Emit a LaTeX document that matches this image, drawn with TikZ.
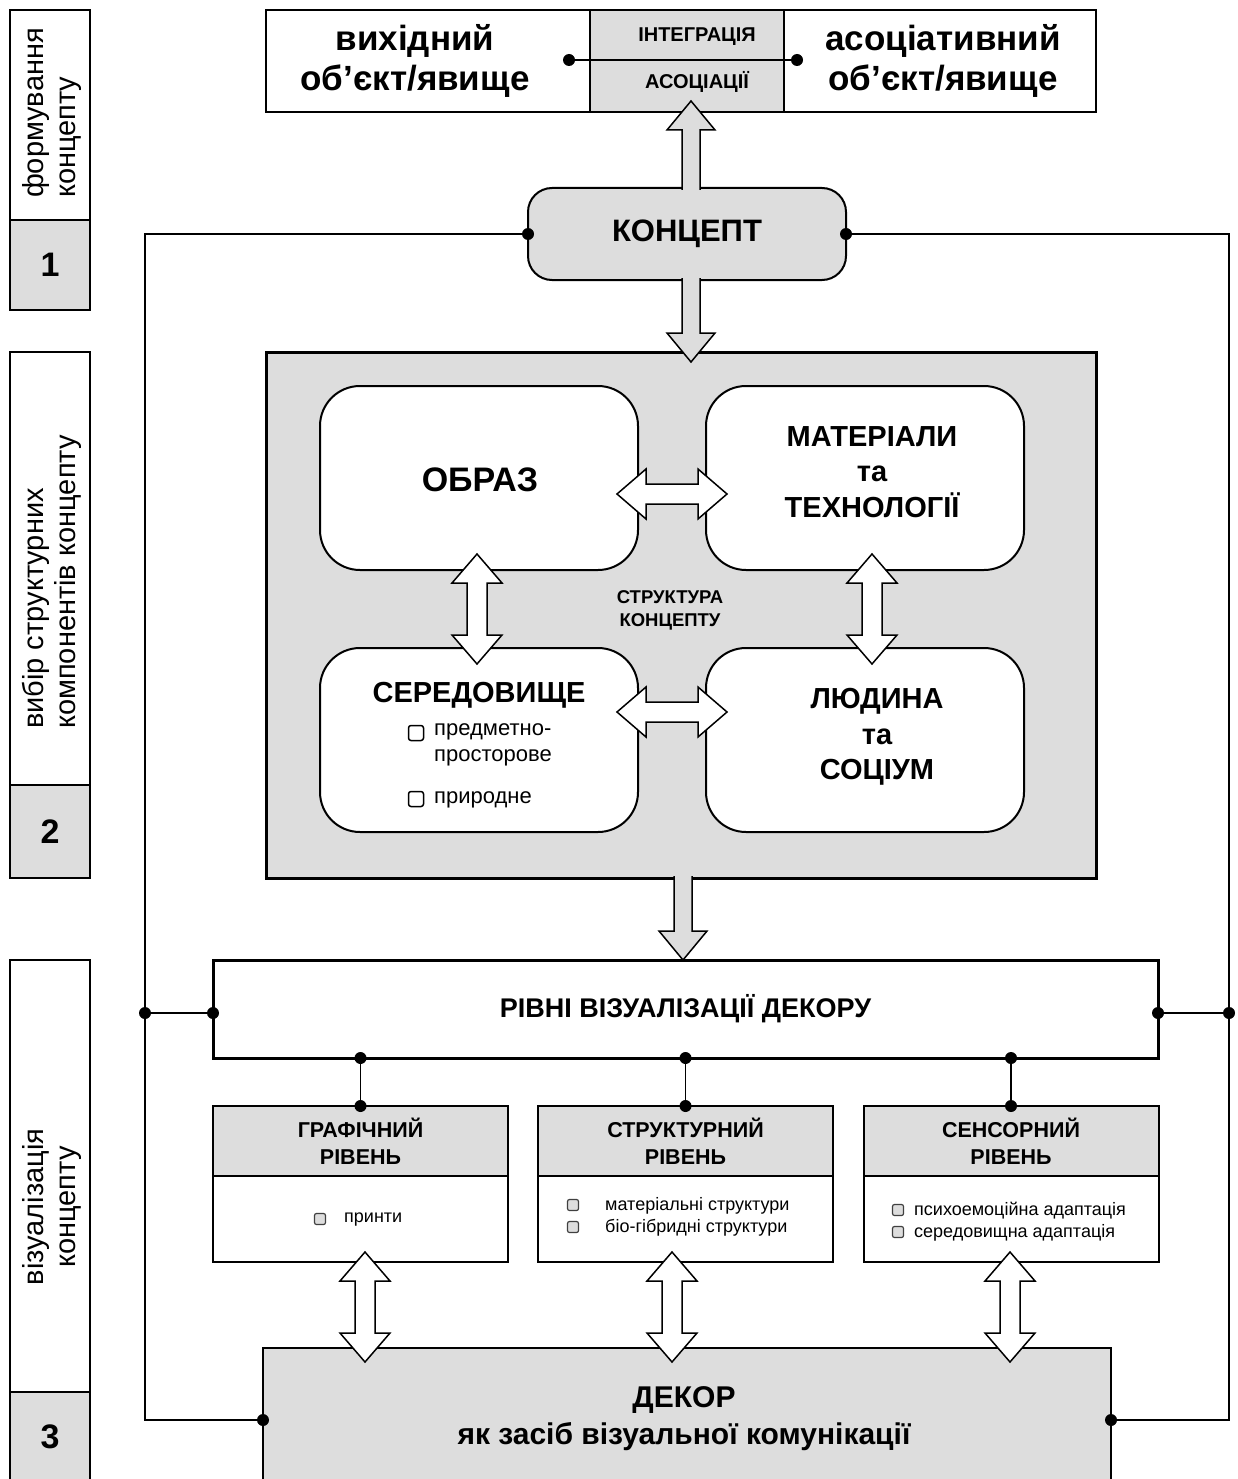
\documentclass[tikz,border=0pt]{standalone}
\usepackage{fontspec}
\setmainfont{Liberation Sans}
\usetikzlibrary{calc,positioning}
\definecolor{fillgray}{RGB}{221,221,221}

\tikzset{
  blockup/.pic={
    \draw[line width=1.5pt, fill=fillgray] (-9,2) -- (-9,-#1+29) -- (-24,-#1+29) -- (0,-#1) -- (24,-#1+29) -- (9,-#1+29) -- (9,2);
  },
  blockdbl/.pic={
    \draw[line width=1.5pt, fill=white] (-55,0) -- (-26,-25) -- (-26,-10) -- (26,-10) -- (26,-25) -- (55,0) -- (26,25) -- (26,10) -- (-26,10) -- (-26,25) -- cycle;
  }
}

\begin{document}
\begin{tikzpicture}[x=1pt, y=-1pt]
    \tikzstyle{stage}=[draw, line width=1.5pt, fill=white, inner sep=0pt, outer sep=0pt, minimum width=80pt]
    \tikzstyle{stagetxt}=[rotate=90, align=left, font=\fontsize{29}{32}\selectfont]
    \tikzstyle{num}=[draw, line width=1.5pt, fill=fillgray, inner sep=0pt, outer sep=0pt, minimum width=80pt, font=\bfseries\fontsize{34}{34}\selectfont]
    \tikzstyle{box}=[draw, line width=1.5pt, fill=white, inner sep=0pt, outer sep=0pt, minimum height=102pt]
    \tikzstyle{big}=[align=center, font=\bfseries\fontsize{35}{40}\selectfont]
    \tikzstyle{captxt}=[font=\bfseries\fontsize{20}{20}\selectfont]
    \tikzstyle{cell}=[draw, line width=2pt, fill=white, rounded corners=40pt, inner sep=0pt, outer sep=0pt, minimum width=318pt, minimum height=184pt]
    \tikzstyle{celltxt}=[align=center, font=\bfseries\fontsize{29}{35.5}\selectfont]
    \tikzstyle{item}=[align=left, inner sep=0pt, font=\fontsize{22}{26}\selectfont]
    \tikzstyle{chk}=[draw, line width=1.5pt, fill=white, rounded corners=2.5pt, inner sep=0pt, minimum size=15pt]
    \tikzstyle{lvlhead}=[draw, line width=2pt, fill=fillgray, inner sep=0pt, outer sep=0pt, minimum width=295pt, minimum height=70pt, align=center, font=\bfseries\fontsize{21.5}{27}\selectfont]
    \tikzstyle{lvlbody}=[draw, line width=2pt, fill=white, inner sep=0pt, outer sep=0pt, minimum width=295pt, minimum height=86pt]
    \tikzstyle{lvlitem}=[align=left, inner sep=0pt, anchor=west, font=\fontsize{18}{22}\selectfont]
    \tikzstyle{lvlchk}=[draw=black!75, line width=1.2pt, fill=fillgray, rounded corners=2pt, inner sep=0pt, minimum size=11pt]
    \tikzstyle{dot}=[circle, fill=black, inner sep=0pt, outer sep=0pt, minimum size=12pt]
    \tikzstyle{conn}=[line width=1.5pt]
    \useasboundingbox (0,0) rectangle (1238,1479);
    \fill[white] (0,0) rectangle (1238,1479);

    % stages on the left
    \node[stage, minimum height=210pt] (stg1) at (50,115) {};
    \node[num, minimum height=90pt] (num1) at (50,265) {1};
    \node[stage, minimum height=433pt] (stg2) at (50,568.5) {};
    \node[num, minimum height=93pt] (num2) at (50,831.5) {2};
    \node[stage, minimum height=432pt] (stg3) at (50,1176) {};
    \node[num, minimum height=90pt] (num3) at (50,1437) {3};
    \node[stagetxt] (stg1t) at (52,113) {формування\\концепту};
    \node[stagetxt] (stg2t) at (52,582) {вибір структурних\\компонентів концепту};
    \node[stagetxt, align=center] (stg3t) at (52,1207) {візуалізація\\концепту};

    % object and association
    \node[box, minimum width=324pt] (src) at (428,61) {};
    \node[box, fill=fillgray, minimum width=194pt] (integ) at (687,61) {};
    \node[box, minimum width=312pt] (assoc) at (940,61) {};
    \node[big] (srct) at (415,61) {вихідний\\об’єкт/явище};
    \node[big] (assoct) at (943,61) {асоціативний\\об’єкт/явище};
    \node[captxt] (integt) at (697,37) {ІНТЕГРАЦІЯ};
    \node[captxt] (assoc2t) at (697,82) {АСОЦІАЦІЇ};
    \node[dot] (tl) at (569,60) {};
    \node[dot] (tr) at (797,60) {};
    \draw[conn] (tl) -- (tr);

    % concept
    \node[draw, line width=2pt, fill=fillgray, rounded corners=24pt, inner sep=0pt, outer sep=0pt, minimum width=318pt, minimum height=92pt, font=\bfseries\fontsize{31}{31}\selectfont] (konc) at (687,234) {КОНЦЕПТ};
    \pic at ($(konc.north)+(4,0)$) {blockup=87};

    % structure of the concept
    \node[draw, line width=3pt, fill=fillgray, inner sep=0pt, outer sep=0pt, minimum width=830pt, minimum height=526pt] (struct) at (681,615) {};
    \pic[rotate=180] at ($(konc.south)+(4,0)$) {blockup=82};
    \node[cell] (obraz) at (479,478) {};
    \node[cell] (mater) at (865,478) {};
    \node[cell] (sered) at (479,740) {};
    \node[cell] (lyud) at (865,740) {};
    \node[celltxt, font=\bfseries\fontsize{34}{34}\selectfont] (obrazt) at (480,480) {ОБРАЗ};
    \node[celltxt] (matert) at (872,472) {МАТЕРІАЛИ\\та\\ТЕХНОЛОГІЇ};
    \node[celltxt] (lyudt) at (877,737) {ЛЮДИНА\\та\\СОЦІУМ};
    \node[celltxt] (seredt) at (479,695) {СЕРЕДОВИЩЕ};
    \node[chk] (ch1) at (416,733) {};
    \node[item, anchor=west] (ch1t) at (434,745) {предметно-\\просторове};
    \node[chk] (ch2) at (416,799) {};
    \node[item, anchor=west] (ch2t) at (434,800) {природне};
    \node[align=center, font=\bfseries\fontsize{18.5}{23}\selectfont] (structt) at (670,610) {СТРУКТУРА\\КОНЦЕПТУ};
    \pic at ($(obraz.east)!0.5!(mater.west)+(0,16)$) {blockdbl};
    \pic at ($(sered.east)!0.5!(lyud.west)+(0,-28)$) {blockdbl};
    \pic[rotate=90] at ($(obraz.south)!0.5!(sered.north)+(-2,0)$) {blockdbl};
    \pic[rotate=90] at ($(mater.south)!0.5!(lyud.north)+(7,0)$) {blockdbl};

    % levels of visualisation
    \node[draw, line width=3pt, fill=white, inner sep=0pt, outer sep=0pt, minimum width=945pt, minimum height=98pt, font=\bfseries\fontsize{27}{27}\selectfont] (rivni) at (685.5,1009) {РІВНІ ВІЗУАЛІЗАЦІЇ ДЕКОРУ};
    \pic[rotate=180] at ($(struct.south)+(2,0)$) {blockup=82};
    \node[lvlhead] (grafh) at (360.5,1141) {ГРАФІЧНИЙ\\РІВЕНЬ};
    \node[lvlbody, below=0pt of grafh] (grafb) {};
    \node[lvlhead] (strh) at (685.5,1141) {СТРУКТУРНИЙ\\РІВЕНЬ};
    \node[lvlbody, below=0pt of strh] (strb) {};
    \node[lvlhead] (sensh) at (1011,1141) {СЕНСОРНИЙ\\РІВЕНЬ};
    \node[lvlbody, below=0pt of sensh] (sensb) {};
    \node[lvlchk] (gc1) at (320,1219) {};
    \node[lvlitem] (gc1t) at (344,1220) {принти};
    \node[lvlchk] (sc1) at (573,1205) {};
    \node[lvlchk] (sc2) at (573,1227) {};
    \node[lvlitem] (sct) at (605,1217) {матеріальні структури\\біо-гібридні структури};
    \node[lvlchk] (nc1) at (898,1210) {};
    \node[lvlchk] (nc2) at (898,1232) {};
    \node[lvlitem] (nct) at (914,1222) {психоемоційна адаптація\\середовищна адаптація};
    \foreach \lvl in {grafh,strh,sensh} {
        \node[dot] (\lvl-a) at (rivni.south -| \lvl.north) {};
        \node[dot] (\lvl-b) at (\lvl.north) {};
        \draw[conn] (\lvl-a) -- (\lvl-b);
    }

    % decor
    \node[draw, line width=2pt, fill=fillgray, inner sep=0pt, outer sep=0pt, minimum width=848pt, minimum height=152pt] (dekor) at (687,1424) {};
    \node[font=\bfseries\fontsize{30}{30}\selectfont] (dekort) at (684,1400) {ДЕКОР};
    \node[font=\bfseries\fontsize{30}{30}\selectfont] (dekors) at (684,1437) {як засіб візуальної комунікації};
    \pic[rotate=90] at ($(grafb.south)!0.5!(grafb.south |- dekor.north)+(4.5,2)$) {blockdbl};
    \pic[rotate=90] at ($(strb.south)!0.5!(strb.south |- dekor.north)+(-13.5,2)$) {blockdbl};
    \pic[rotate=90] at ($(sensb.south)!0.5!(sensb.south |- dekor.north)+(-1,2)$) {blockdbl};

    % feedback lines
    \node[dot] (kl) at (konc.west) {};
    \node[dot] (kr) at (konc.east) {};
    \node[dot] (rl) at ($(rivni.west)+(0,4)$) {};
    \node[dot] (rr) at ($(rivni.east)+(0,4)$) {};
    \node[dot] (bl) at ($(rl)+(-68,0)$) {};
    \node[dot] (br) at ($(rr)+(71,0)$) {};
    \node[dot] (dl) at ($(dekor.west)+(0,-4)$) {};
    \node[dot] (dr) at ($(dekor.east)+(0,-4)$) {};
    \draw[conn] (kl) -- (kl -| bl) -- (dl -| bl) -- (dl);
    \draw[conn] (kr) -- (kr -| br) -- (dr -| br) -- (dr);
    \draw[conn] (bl) -- (rl);
    \draw[conn] (br) -- (rr);
\end{tikzpicture}
\end{document}
